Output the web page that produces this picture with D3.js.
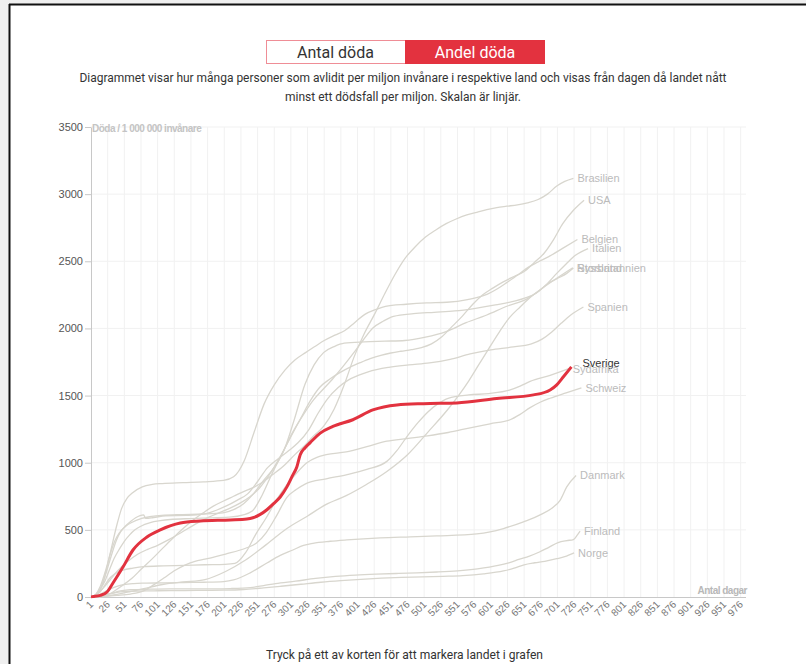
<!DOCTYPE html>
<html>
<head>
<meta charset="utf-8">
<script src="https://cdn.jsdelivr.net/npm/d3@7"></script>
<style>
  body { margin: 0; background: #efefef; overflow: hidden; }
  svg { display: block; }
  .axis text { font-family: "Liberation Sans", Arial, sans-serif; }
</style>
</head>
<body>
<div id="chart"></div>
<script>
// Döda per miljon invånare, [dag sedan 1 död/miljon, värde]
const brasilien = [[1,1],[15,8],[31,28],[45,75],[62,137],[77,210],[92,280],[108,360],[123,434],[138,505],[154,572],[169,625],[184,675],[200,715],[215,750],[230,785],[245,816],[260,860],[276,920],[292,985],[307,1060],[321,1125],[335,1200],[350,1270],[366,1400],[381,1580],[396,1790],[411,1960],[427,2110],[442,2260],[457,2400],[472,2520],[488,2610],[503,2680],[519,2735],[534,2780],[549,2815],[565,2845],[580,2865],[595,2885],[610,2900],[625,2910],[641,2920],[656,2935],[672,2960],[686,3000],[700,3060],[712,3095],[725,3118]];
const usa = [[1,1],[10,20],[20,70],[30,130],[40,190],[55,260],[71,318],[86,355],[101,385],[117,425],[132,467],[147,512],[163,558],[178,595],[193,627],[209,660],[224,697],[239,745],[254,812],[270,920],[285,1045],[300,1185],[316,1333],[330,1460],[344,1560],[360,1625],[375,1673],[390,1712],[405,1745],[420,1775],[436,1800],[451,1817],[466,1830],[482,1842],[497,1857],[512,1885],[528,1940],[543,2015],[558,2090],[574,2180],[589,2250],[604,2300],[619,2345],[635,2385],[650,2420],[666,2490],[681,2560],[695,2660],[709,2780],[725,2880],[741,2955]];
const belgien = [[1,1],[10,15],[20,120],[30,330],[40,540],[47,660],[55,735],[63,775],[78,820],[93,838],[108,845],[139,852],[170,858],[200,868],[215,895],[231,1015],[246,1230],[261,1440],[276,1580],[292,1690],[307,1765],[323,1820],[337,1865],[351,1910],[367,1950],[382,1985],[397,2045],[412,2105],[428,2140],[443,2165],[474,2180],[505,2190],[535,2195],[566,2215],[596,2255],[611,2295],[626,2345],[642,2400],[657,2455],[672,2495],[688,2535],[710,2600],[731,2662]];
const italien = [[1,1],[8,15],[15,60],[22,120],[29,206],[36,290],[44,360],[51,415],[59,463],[67,500],[75,525],[90,554],[105,568],[120,577],[151,584],[182,589],[212,596],[228,610],[243,640],[258,760],[273,922],[289,1080],[304,1230],[320,1360],[335,1468],[349,1545],[363,1620],[379,1715],[394,1810],[409,1910],[424,2003],[440,2055],[455,2090],[485,2110],[516,2120],[547,2130],[578,2150],[608,2175],[638,2205],[654,2230],[669,2262],[685,2330],[700,2410],[714,2480],[728,2545],[747,2595]];
const storbritannien = [[1,1],[8,10],[15,60],[23,170],[31,300],[39,420],[46,490],[54,530],[62,555],[77,585],[92,600],[107,608],[138,614],[168,618],[199,627],[215,650],[230,695],[245,770],[260,868],[276,965],[291,1097],[306,1320],[322,1582],[336,1730],[350,1820],[366,1865],[381,1890],[411,1900],[442,1905],[472,1910],[503,1935],[534,1977],[564,2043],[595,2100],[625,2165],[656,2222],[672,2275],[687,2335],[701,2372],[715,2410],[725,2450]];
const ryssland = [[1,1],[20,5],[40,20],[60,40],[80,62],[110,95],[140,112],[172,130],[203,190],[233,275],[264,390],[295,510],[325,600],[354,690],[384,755],[415,840],[445,935],[476,1060],[507,1230],[537,1400],[568,1610],[583,1730],[598,1850],[614,1975],[629,2080],[645,2160],[660,2230],[690,2340],[724,2452]];
const spanien = [[1,1],[8,20],[15,80],[22,182],[30,320],[37,420],[44,480],[52,525],[60,560],[68,590],[80,612],[83,585],[95,592],[113,605],[144,608],[160,612],[175,622],[190,648],[205,680],[220,720],[236,768],[251,860],[266,963],[282,1030],[297,1087],[312,1150],[328,1247],[342,1370],[356,1476],[372,1560],[387,1615],[402,1650],[417,1677],[448,1710],[478,1728],[509,1743],[540,1770],[570,1810],[601,1840],[631,1860],[662,1885],[678,1920],[693,1975],[707,2040],[721,2100],[740,2160]];
const sydafrika = [[1,1],[20,5],[40,12],[60,22],[80,46],[95,90],[111,143],[126,195],[142,238],[157,265],[172,282],[203,320],[233,363],[249,400],[264,480],[280,610],[295,742],[309,800],[323,843],[354,880],[384,910],[415,950],[445,1010],[460,1090],[476,1200],[492,1300],[507,1380],[522,1440],[537,1480],[568,1505],[598,1515],[629,1540],[645,1570],[660,1605],[690,1650],[718,1700]];
const schweiz = [[1,1],[8,10],[15,40],[22,90],[29,140],[36,170],[49,200],[64,215],[80,226],[110,232],[141,236],[172,240],[202,243],[217,250],[233,330],[248,465],[264,590],[279,720],[294,830],[309,920],[325,1000],[340,1040],[354,1060],[384,1080],[415,1120],[445,1160],[475,1180],[506,1200],[537,1225],[570,1260],[600,1290],[630,1320],[645,1360],[660,1410],[675,1450],[690,1480],[714,1520],[737,1557]];
const danmark = [[1,1],[10,8],[20,35],[30,60],[40,80],[50,92],[65,100],[80,103],[110,105],[140,108],[170,110],[200,115],[215,127],[240,180],[265,253],[285,310],[304,350],[320,385],[334,400],[360,415],[385,425],[435,440],[480,448],[520,455],[580,470],[600,485],[620,510],[650,560],[675,611],[695,670],[705,720],[715,820],[729,905]];
const finland = [[1,1],[15,8],[30,25],[45,45],[60,55],[90,58],[120,60],[180,61],[210,63],[240,70],[260,85],[278,100],[308,118],[338,138],[368,153],[398,163],[429,170],[459,175],[490,180],[520,186],[551,195],[581,210],[612,235],[628,255],[643,280],[659,305],[674,335],[688,370],[702,405],[715,420],[725,428],[731,462],[735,490]];
const norge = [[1,1],[15,8],[30,25],[45,38],[60,43],[90,46],[120,47],[160,49],[200,51],[230,56],[260,68],[286,80],[316,95],[346,110],[376,122],[406,132],[437,140],[467,146],[498,150],[529,154],[559,159],[590,172],[620,194],[636,215],[651,240],[667,255],[682,266],[700,285],[712,300],[726,328]];
const sverige = [[1,1],[4,3],[15,12],[25,37],[34,104],[49,223],[64,350],[85,447],[105,500],[135,551],[165,566],[210,574],[235,581],[244,590],[255,615],[265,650],[275,695],[285,745],[295,820],[303,900],[310,970],[315,1060],[322,1110],[330,1150],[345,1220],[364,1270],[394,1320],[424,1393],[460,1430],[500,1440],[550,1445],[610,1478],[665,1505],[690,1542],[700,1580],[710,1640],[722,1714]];

const countries = ["Brasilien", "USA", "Belgien", "Italien", "Storbritannien", "Ryssland", "Spanien", "Sydafrika", "Schweiz", "Danmark", "Finland", "Norge", "Sverige"];
const countryData = [brasilien, usa, belgien, italien, storbritannien, ryssland, spanien, sydafrika, schweiz, danmark, finland, norge, sverige];
const highlighted = "Sverige";

const yTicks = [0, 500, 1000, 1500, 2000, 2500, 3000, 3500];
const xTicks = [1, 26, 51, 76, 101, 126, 151, 176, 201, 226, 251, 276, 301, 326, 351, 376, 401, 426, 451, 476, 501, 526, 551, 576, 601, 626, 651, 676, 701, 726, 751, 776, 801, 826, 851, 876, 901, 926, 951, 976];

const buttons = ["Antal döda", "Andel döda"];
const subtitle = ["Diagrammet visar hur många personer som avlidit per miljon invånare i respektive land och visas från dagen då landet nått", "minst ett dödsfall per miljon. Skalan är linjär."];
const footer = "Tryck på ett av korten för att markera landet i grafen";

const width = 806, height = 664;
const svg = d3.select("#chart").append("svg")
    .attr("width", width)
    .attr("height", height);

// page frame
svg.append("rect").attr("width", width).attr("height", height).attr("fill", "#efefef");
svg.append("rect").attr("x", 10).attr("y", 5).attr("width", width).attr("height", height).attr("fill", "#fff");
svg.append("line").attr("x1", 9.5).attr("x2", 9.5).attr("y1", 4).attr("y2", height).attr("stroke", "#111").attr("stroke-width", 2);
svg.append("line").attr("x1", 9).attr("x2", width).attr("y1", 4.5).attr("y2", 4.5).attr("stroke", "#111").attr("stroke-width", 2);

// toggle buttons
const btn = svg.append("g");
btn.append("rect").attr("x", 266.5).attr("y", 40.5).attr("width", 139).attr("height", 23)
    .attr("fill", "#fff").attr("stroke", "#ef8d96");
btn.append("rect").attr("x", 405).attr("y", 40).attr("width", 140).attr("height", 24)
    .attr("fill", "#e3323f");
btn.selectAll("text")
    .data(buttons)
    .enter().append("text")
    .attr("x", (d, i) => i === 0 ? 335.5 : 475)
    .attr("y", 58)
    .attr("text-anchor", "middle")
    .attr("font-family", "Roboto, sans-serif")
    .attr("font-size", 16)
    .attr("fill", (d, i) => i === 0 ? "#333" : "#fff")
    .text(d => d);

// subtitle
svg.append("g").selectAll("text")
    .data(subtitle)
    .enter().append("text")
    .attr("x", 403)
    .attr("y", (d, i) => 82 + i * 19)
    .attr("text-anchor", "middle")
    .attr("font-family", "Roboto, sans-serif")
    .attr("font-size", 12.5)
    .attr("fill", "#333")
    .attr("textLength", (d, i) => i === 0 ? 647 : 236)
    .attr("lengthAdjust", "spacingAndGlyphs")
    .text(d => d);

// scales
const x = d3.scaleLinear().domain([1, 984]).range([91, 746]);
const y = d3.scaleLinear().domain([0, 3500]).range([597, 127]);

// grid
const grid = svg.append("g");
grid.selectAll("line.v")
    .data(xTicks.slice(1))
    .enter().append("line")
    .attr("x1", d => x(d)).attr("x2", d => x(d))
    .attr("y1", y(3500)).attr("y2", y(0))
    .attr("stroke", "#f1f1f1");
grid.selectAll("line.h")
    .data(yTicks.slice(1))
    .enter().append("line")
    .attr("x1", x(1)).attr("x2", 746)
    .attr("y1", d => y(d)).attr("y2", d => y(d))
    .attr("stroke", "#f1f1f1");

// axes
const yAxis = svg.append("g")
    .attr("class", "axis")
    .attr("transform", "translate(91,0)")
    .call(d3.axisLeft(y).tickValues(yTicks).tickSize(6).tickSizeOuter(0).tickPadding(2).tickFormat(d3.format("d")));
yAxis.select(".domain").attr("stroke", "#c8c8c8");
yAxis.selectAll(".tick line").attr("stroke", "#c8c8c8");
yAxis.selectAll(".tick text").attr("fill", "#555").attr("font-size", 11);

const xAxis = svg.append("g")
    .attr("class", "axis")
    .attr("transform", "translate(0,597)")
    .call(d3.axisBottom(x).tickValues(xTicks).tickSize(0).tickSizeOuter(0).tickFormat(d3.format("d")));
xAxis.select(".domain").attr("stroke", "#c8c8c8").attr("d", "M91,0.5H746");
xAxis.selectAll(".tick text")
    .attr("fill", "#777")
    .attr("font-size", 10)
    .attr("text-anchor", "end")
    .attr("x", -4)
    .attr("y", 4)
    .attr("dy", "0.35em")
    .attr("transform", "rotate(-45)");

// axis titles
svg.append("text")
    .attr("x", 92).attr("y", 132)
    .attr("font-family", "Liberation Sans, Arial, sans-serif")
    .attr("font-size", 10).attr("font-weight", "bold")
    .attr("letter-spacing", -0.5)
    .attr("fill", "#c4c4c4")
    .text("Döda / 1 000 000 invånare");
svg.append("text")
    .attr("x", 747).attr("y", 594)
    .attr("text-anchor", "end")
    .attr("font-family", "Liberation Sans, Arial, sans-serif")
    .attr("font-size", 10).attr("font-weight", "bold")
    .attr("letter-spacing", -0.5)
    .attr("fill", "#b8b8b8")
    .text("Antal dagar");

// lines
const line = d3.line()
    .x(d => x(d[0]))
    .y(d => y(d[1]))
    .curve(d3.curveMonotoneX);

const rows = countries.map((name, i) => ({ name: name, values: countryData[i] }));

svg.append("g").selectAll("path")
    .data(rows.filter(r => r.name !== highlighted))
    .enter().append("path")
    .attr("d", d => line(d.values))
    .attr("fill", "none")
    .attr("stroke", "#d8d6ce")
    .attr("stroke-width", 1.3);

svg.append("g").selectAll("path")
    .data(rows.filter(r => r.name === highlighted))
    .enter().append("path")
    .attr("d", d => line(d.values))
    .attr("fill", "none")
    .attr("stroke", "#e2323f")
    .attr("stroke-width", 3)
    .attr("stroke-linejoin", "round");

// end labels
svg.append("g").selectAll("text")
    .data(rows.slice().reverse())
    .enter().append("text")
    .attr("x", d => {
        const last = d.values[d.values.length - 1];
        return x(last[0]) + (d.name === highlighted ? 11 : 4);
    })
    .attr("y", d => {
        const last = d.values[d.values.length - 1];
        return y(last[1]) + (d.name === highlighted ? -4 : 0);
    })
    .attr("dy", "0.35em")
    .attr("font-family", "Liberation Sans, Arial, sans-serif")
    .attr("font-size", 11)
    .attr("fill", d => d.name === highlighted ? "#333" : "#bbb")
    .text(d => d.name);

// footer
svg.append("text")
    .attr("x", 404.5).attr("y", 659)
    .attr("text-anchor", "middle")
    .attr("font-family", "Roboto, sans-serif")
    .attr("font-size", 13)
    .attr("fill", "#333")
    .attr("textLength", 277)
    .attr("lengthAdjust", "spacingAndGlyphs")
    .text(footer);
</script>
</body>
</html>
